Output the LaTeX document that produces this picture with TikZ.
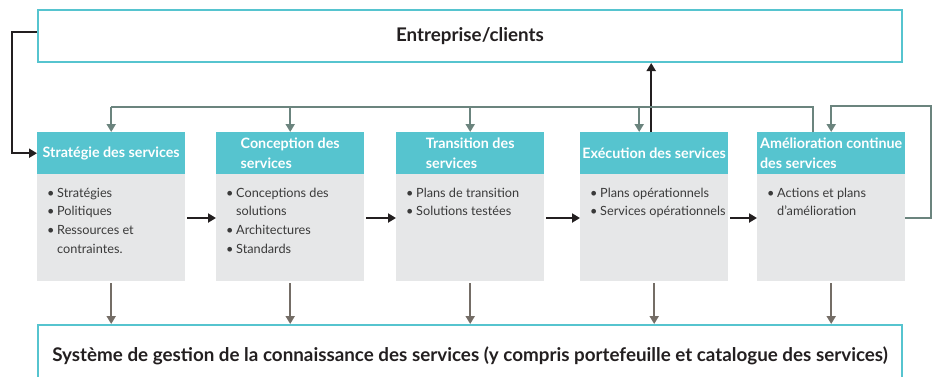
\documentclass[tikz,border=0pt]{standalone}
\usepackage{fontspec}
\usepackage{array}
\setmainfont{Lato}
\usetikzlibrary{arrows.meta}

\definecolor{hdcyan}{HTML}{56C4CF}
\definecolor{bodygray}{HTML}{E6E7E8}
\definecolor{fbgreen}{HTML}{6B847E}
\definecolor{kbbrown}{HTML}{746D66}
\definecolor{inkblack}{HTML}{231F20}
\definecolor{txtgray}{HTML}{3A3A3A}

\hyphenpenalty=10000
\exhyphenpenalty=10000
\newcommand{\itemsof}[1]{\begin{tabular}{@{}p{10pt}@{}>{\raggedright\arraybackslash}p{134pt}@{}}#1\end{tabular}}

\begin{document}
\begin{tikzpicture}[x=1pt,y=-1pt,
  topbox/.style={draw=hdcyan,line width=2pt,inner sep=0pt,text=inkblack,font=\bfseries\fontsize{18.8}{20}\selectfont},
  headbox/.style={fill=hdcyan,text=white,anchor=north west,minimum width=148pt,minimum height=42pt,inner sep=0pt,align=left,font=\bfseries\fontsize{14.3}{20}\selectfont},
  bodybox/.style={fill=bodygray,anchor=north west,minimum width=148pt,minimum height=107pt,inner sep=0pt},
  itemtext/.style={anchor=north west,inner sep=0pt,text=txtgray,font=\fontsize{12.7}{18.6}\selectfont},
  fbline/.style={draw=fbgreen,line width=2pt},
  kbline/.style={draw=kbbrown,line width=2pt},
  mainline/.style={draw=inkblack,line width=2pt},
  >={Triangle[width=9pt,length=8pt]}]
  \useasboundingbox (0,0) rectangle (938,376);
  \clip (0,0) rectangle (938,376);

  % outer boxes
  \node[topbox,minimum width=864pt,minimum height=52pt] (clients) at (470,36) {Entreprise/clients};
  \node[topbox,minimum width=864pt,minimum height=62pt] (skms) at (470,356)
    {Système de gestion de la connaissance des services (y compris portefeuille et catalogue des services)};

  % the five stages
  \node[headbox] (h1) at (37,132) {Stratégie des services};
  \node[bodybox] (b1) at (37,174) {};
  \node[itemtext] (t1) at (47,184) {\itemsof{\textbullet & Stratégies\\ \textbullet & Politiques\\ \textbullet & Ressources et contraintes.\\}};

  \node[headbox] (h2) at (216,132) {Conception des\\services};
  \node[bodybox] (b2) at (216,174) {};
  \node[itemtext] (t2) at (226,184) {\itemsof{\textbullet & Conceptions des solutions\\ \textbullet & Architectures\\ \textbullet & Standards\\}};

  \node[headbox] (h3) at (396,132) {Transition des\\services};
  \node[bodybox] (b3) at (396,174) {};
  \node[itemtext] (t3) at (406,184) {\itemsof{\textbullet & Plans de transition\\ \textbullet & Solutions testées\\}};

  \node[headbox] (h4) at (580,132) {Exécution des services};
  \node[bodybox] (b4) at (580,174) {};
  \node[itemtext] (t4) at (590,184) {\itemsof{\textbullet & Plans opérationnels\\ \textbullet & Services opérationnels\\}};

  \node[headbox] (h5) at (757,132) {Amélioration continue\\des services};
  \node[bodybox] (b5) at (757,174) {};
  \node[itemtext] (t5) at (767,184) {\itemsof{\textbullet & Actions et plans d'amélioration\\}};

  % helper points
  \coordinate (arr) at (0,218);
  \coordinate (fbl) at (0,107);
  \coordinate (loop) at (931,106);

  % main flow
  \draw[mainline,->] ([yshift=4pt]clients.west) -- ++(-25,0) |- (h1.west);
  \draw[mainline,->,shorten <=2pt] (b1.east |- arr) -- (b2.west |- arr);
  \draw[mainline,->,shorten <=2pt] (b2.east |- arr) -- (b3.west |- arr);
  \draw[mainline,->,shorten <=2pt] (b3.east |- arr) -- (b4.west |- arr);
  \draw[mainline,->,shorten <=2pt] (b4.east |- arr) -- (b5.west |- arr);
  \draw[mainline,->] ([xshift=-3pt]h4.north) -- ([xshift=-3pt]h4.north |- clients.south);

  % feedback
  \draw[fbline] ([xshift=-18pt]h5.north) |- (h1.north |- fbl);
  \draw[fbline,->] (h1.north |- fbl) -- (h1.north);
  \draw[fbline,->] (h2.north |- fbl) -- (h2.north);
  \draw[fbline,->] (h3.north |- fbl) -- (h3.north);
  \draw[fbline,->] ([xshift=-15pt]h4.north |- fbl) -- ([xshift=-15pt]h4.north);
  \draw[fbline,->] (b5.east |- arr) -| (loop) -| (h5.north);

  % knowledge base
  \draw[kbline,->,shorten <=2pt] (b1.south) -- (b1.south |- skms.north);
  \draw[kbline,->,shorten <=2pt] (b2.south) -- (b2.south |- skms.north);
  \draw[kbline,->,shorten <=2pt] (b3.south) -- (b3.south |- skms.north);
  \draw[kbline,->,shorten <=2pt] (b4.south) -- (b4.south |- skms.north);
  \draw[kbline,->,shorten <=2pt] (b5.south) -- (b5.south |- skms.north);
\end{tikzpicture}
\end{document}
